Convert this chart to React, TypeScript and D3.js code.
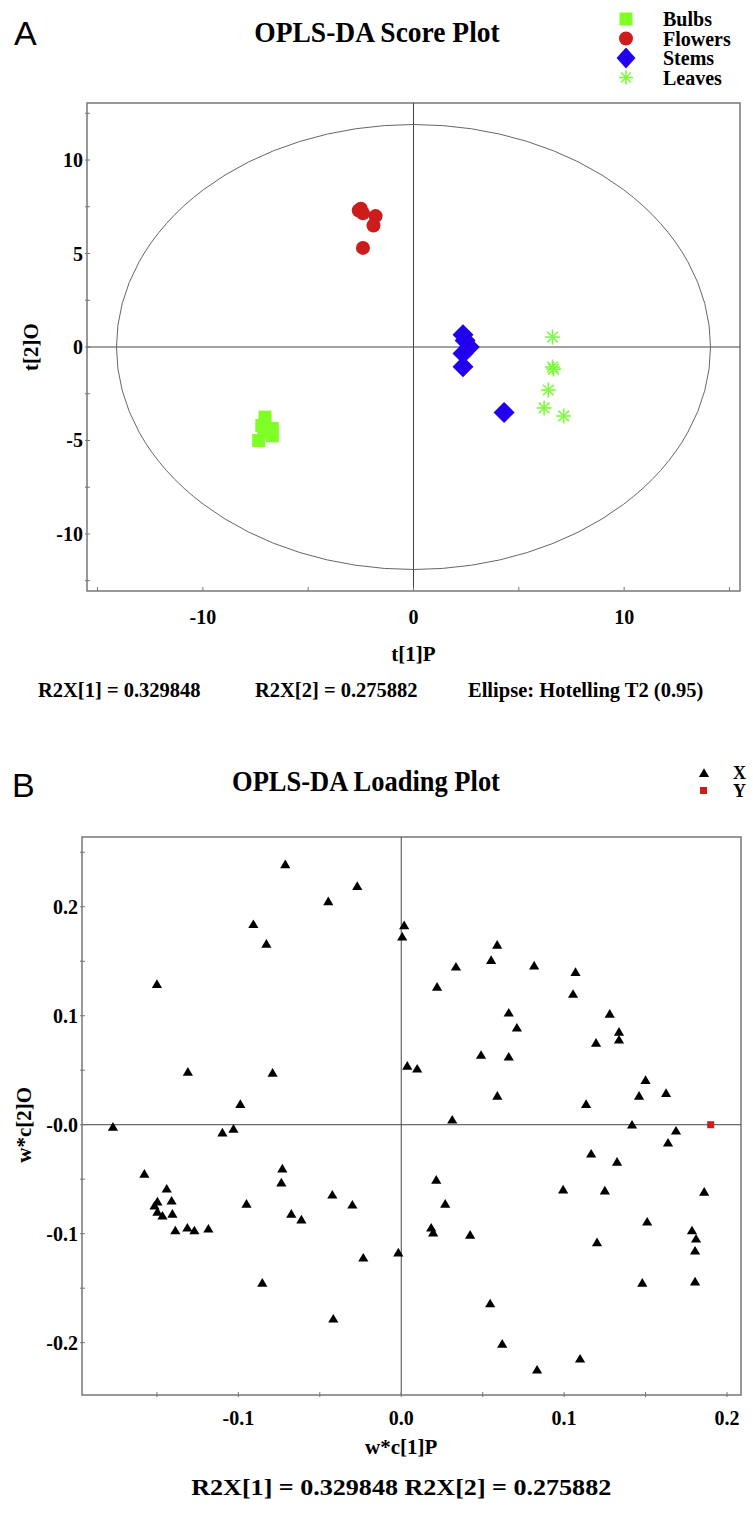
import React from 'react';
import * as d3 from 'd3';

// ---------- Panel A data (t[1]P, t[2]O) ----------
const bulbs: number[][] = [[-7.05, -3.75], [-7.2, -4.2], [-6.7, -4.35], [-6.7, -4.75], [-7.1, -4.6], [-7.35, -5.0]];
const flowers: number[][] = [[-2.5, 7.4], [-2.6, 7.3], [-2.4, 7.15], [-1.8, 7.0], [-1.9, 6.5], [-2.4, 5.3]];
const stems: number[][] = [[2.35, 0.65], [2.45, 0.35], [2.65, 0.0], [2.35, -0.35], [2.35, -1.05], [4.3, -3.5]];
const leaves: number[][] = [[6.6, 0.53], [6.6, -1.07], [6.65, -1.18], [6.4, -2.3], [6.2, -3.26], [7.13, -3.69]];
const groupNames = ['Bulbs', 'Flowers', 'Stems', 'Leaves'];
const aXTicks = [-15, -10, -5, 0, 5, 10, 15];
const aXLabels = [-10, 0, 10];
const aYTicks = [-12.5, -10, -7.5, -5, -2.5, 0, 2.5, 5, 7.5, 10, 12.5];
const aYLabels = [-10, -5, 0, 5, 10];
const ellipseRadii = [14.1, 11.9];

// ---------- Panel B data (w*c[1]P, w*c[2]O) ----------
const loadX: number[] = [
  -0.0712, -0.027, -0.0448, -0.0908, -0.0828, -0.150, 0.0018, 0.0006, -0.131, -0.079,
  0.0037, 0.0098, 0.0589, 0.0552, 0.0336, 0.0816, 0.107, 0.022, 0.1055, 0.066,
  0.071, 0.128, 0.1337, 0.1337, 0.1196, 0.049, 0.066, 0.150, 0.059, 0.146,
  0.1626, -0.0988, -0.177, -0.1098, -0.103, -0.1577, -0.144, -0.1497, -0.141, -0.1515,
  -0.1497, -0.1466, -0.1405, -0.1387, -0.1313, -0.127, -0.1184, -0.095, -0.073, -0.0736,
  -0.0675, -0.0613, -0.0423, -0.030, -0.0233, -0.0018, -0.0853, 0.1135, 0.0313, 0.1417,
  0.1687, 0.1638, 0.1166, 0.1325, 0.0215, 0.027, 0.0994, 0.125, 0.186, 0.0184,
  0.0196, 0.0423, 0.151, 0.1202, 0.1785, 0.181, 0.1804, 0.148, 0.1804, -0.0417,
  0.0546, 0.062, 0.0834, 0.1098,
];
const loadY: number[] = [
  0.239, 0.219, 0.205, 0.184, 0.166, 0.129, 0.183, 0.1725, 0.0486, 0.0477,
  0.054, 0.0514, 0.165, 0.151, 0.145, 0.146, 0.140, 0.1266, 0.120, 0.1028,
  0.089, 0.1018, 0.0853, 0.078, 0.0752, 0.064, 0.0624, 0.041, 0.0266, 0.0266,
  0.029, 0.019, -0.002, -0.0073, -0.0037, -0.045, -0.0587, -0.0706, -0.0697, -0.0743,
  -0.080, -0.0835, -0.0817, -0.097, -0.0945, -0.097, -0.0954, -0.0725, -0.0403, -0.053,
  -0.0817, -0.087, -0.0642, -0.0734, -0.122, -0.1174, -0.145, 0.019, 0.0046, 0.0,
  -0.0055, -0.0165, -0.0266, -0.034, -0.0505, -0.0725, -0.0596, -0.0605, -0.0615, -0.0945,
  -0.099, -0.101, -0.089, -0.108, -0.097, -0.1046, -0.1156, -0.145, -0.144, -0.178,
  -0.164, -0.201, -0.2248, -0.2147,
];
const yVar: number[] = [0.19, 0.0];
const bXTicks = [-0.15, -0.1, -0.05, 0, 0.05, 0.1, 0.15, 0.2];
const bXLabels = ['-0.1', '0.0', '0.1', '0.2'];
const bXLabelVals = [-0.1, 0, 0.1, 0.2];
const bYTicks = [-0.2, -0.15, -0.1, -0.05, 0, 0.05, 0.1, 0.15, 0.2, 0.25];
const bYLabelVals = [-0.2, -0.1, 0, 0.1, 0.2];
const bYLabels = ['-0.2', '-0.1', '-0.0', '0.1', '0.2'];

const SERIF = '"Liberation Serif", "Times New Roman", serif';
const SANS = '"Liberation Sans", Arial, sans-serif';
const C_BULB = '#80ff26';
const C_FLOWER = '#cc1c1c';
const C_STEM = '#2200ee';
const C_LEAF = '#7dfa3c';
const FRAME = '#777';
const AXIS = '#444';

const triPath = 'M0,-4.8L5.1,3.9L-5.1,3.9Z';
const squarePath = d3.symbol(d3.symbolSquare, 169)() as string;
const diamondPath = 'M0,-10.5L10.5,0L0,10.5L-10.5,0Z';

function Asterisk({ x, y, r = 7.5, color }: { x: number; y: number; r?: number; color: string }) {
  const angles = [0, 45, 90, 135];
  return (
    <g transform={`translate(${x},${y})`} stroke={color} strokeWidth={1.6}>
      {angles.map((a) => {
        const rad = (a * Math.PI) / 180;
        return <line key={a} x1={-r * Math.sin(rad)} y1={-r * Math.cos(rad)} x2={r * Math.sin(rad)} y2={r * Math.cos(rad)} />;
      })}
    </g>
  );
}

export default function App() {
  // Panel A scales
  const xA = d3.scaleLinear().domain([-15.5, 15.5]).range([87, 740]);
  const yA = d3.scaleLinear().domain([-13.05, 13.05]).range([591, 103]);
  const aL = 87, aR = 740, aT = 103, aB = 591;

  // Panel B scales
  const xB = d3.scaleLinear().domain([-0.196, 0.2086]).range([82, 741]);
  const yB = d3.scaleLinear().domain([-0.248, 0.264]).range([1395, 837]);
  const bL = 82, bR = 741, bT = 837, bB = 1395;

  const legendMarkers = [
    (x: number, y: number) => <path d={squarePath} transform={`translate(${x},${y})`} fill={C_BULB} />,
    (x: number, y: number) => <circle cx={x} cy={y} r={7} fill={C_FLOWER} />,
    (x: number, y: number) => <path d={diamondPath} transform={`translate(${x},${y}) scale(0.9,1)`} fill={C_STEM} />,
    (x: number, y: number) => <Asterisk x={x} y={y} r={7} color={C_LEAF} />,
  ];

  return (
    <svg width={753} height={1521} style={{ position: 'absolute', left: 0, top: 0, background: '#fff' }}>
      <rect x={0} y={0} width={753} height={1521} fill="#fff" />

      {/* ================= Panel A ================= */}
      <text x={14} y={45} fontFamily={SANS} fontSize={34} fill="#000">A</text>
      <text transform="translate(377,42) scale(1,1.1)" textAnchor="middle" fontFamily={SERIF} fontWeight="bold" fontSize={27.5}>OPLS-DA Score Plot</text>

      {groupNames.map((g, i) => (
        <g key={g}>
          {legendMarkers[i](626, 19 + i * 19.5)}
          <text x={663} y={26 + i * 19.5} fontFamily={SERIF} fontWeight="bold" fontSize={20}>{g}</text>
        </g>
      ))}

      {/* frame */}
      <rect x={aL} y={aT} width={aR - aL} height={aB - aT} fill="none" stroke={FRAME} strokeWidth={1.5} />
      {/* cross lines */}
      <line x1={xA(0)} x2={xA(0)} y1={aT} y2={aB} stroke={AXIS} strokeWidth={1} />
      <line x1={aL} x2={aR} y1={yA(0)} y2={yA(0)} stroke={AXIS} strokeWidth={1} />
      {/* ellipse */}
      <ellipse cx={xA(0)} cy={yA(0)} rx={xA(ellipseRadii[0]) - xA(0)} ry={yA(0) - yA(ellipseRadii[1])} fill="none" stroke="#666" strokeWidth={1} />

      {/* ticks */}
      {aXTicks.map((t) => (
        <line key={`ax${t}`} x1={xA(t)} x2={xA(t)} y1={aB - 4} y2={aB} stroke={FRAME} strokeWidth={1} />
      ))}
      {aYTicks.map((t) => (
        <line key={`ay${t}`} x1={aL - 2} x2={aL + 3} y1={yA(t)} y2={yA(t)} stroke={FRAME} strokeWidth={1} />
      ))}
      {aXLabels.map((t) => (
        <text key={`axl${t}`} x={xA(t)} y={624} textAnchor="middle" fontFamily={SERIF} fontWeight="bold" fontSize={20}>{t}</text>
      ))}
      {aYLabels.map((t) => (
        <text key={`ayl${t}`} x={83} y={yA(t) + 7} textAnchor="end" fontFamily={SERIF} fontWeight="bold" fontSize={20}>{t}</text>
      ))}
      <text x={xA(0)} y={661} textAnchor="middle" fontFamily={SERIF} fontWeight="bold" fontSize={21}>t[1]P</text>
      <text transform={`translate(38,${yA(0)}) rotate(-90)`} textAnchor="middle" fontFamily={SERIF} fontWeight="bold" fontSize={21}>t[2]O</text>

      {/* points */}
      {bulbs.map((p, i) => (
        <path key={`b${i}`} d={squarePath} transform={`translate(${xA(p[0])},${yA(p[1])})`} fill={C_BULB} />
      ))}
      {flowers.map((p, i) => (
        <circle key={`f${i}`} cx={xA(p[0])} cy={yA(p[1])} r={7} fill={C_FLOWER} />
      ))}
      {stems.map((p, i) => (
        <path key={`s${i}`} d={diamondPath} transform={`translate(${xA(p[0])},${yA(p[1])})`} fill={C_STEM} />
      ))}
      {leaves.map((p, i) => (
        <Asterisk key={`l${i}`} x={xA(p[0])} y={yA(p[1])} color={C_LEAF} />
      ))}

      <text x={38} y={697} fontFamily={SERIF} fontWeight="bold" fontSize={20.5}>R2X[1] = 0.329848</text>
      <text x={255} y={697} fontFamily={SERIF} fontWeight="bold" fontSize={20.5}>R2X[2] = 0.275882</text>
      <text x={468} y={697} fontFamily={SERIF} fontWeight="bold" fontSize={20.5}>Ellipse: Hotelling T2 (0.95)</text>

      {/* ================= Panel B ================= */}
      <text x={12} y={797} fontFamily={SANS} fontSize={34} fill="#000">B</text>
      <text transform="translate(366,791) scale(1,1.1)" textAnchor="middle" fontFamily={SERIF} fontWeight="bold" fontSize={26.5}>OPLS-DA Loading Plot</text>

      <path d={triPath} transform="translate(704,773)" fill="#000" />
      <text x={733} y={779} fontFamily={SERIF} fontWeight="bold" fontSize={18}>X</text>
      <rect x={700} y={787} width={7} height={7} fill={C_FLOWER} />
      <text x={733} y={797} fontFamily={SERIF} fontWeight="bold" fontSize={18}>Y</text>

      <rect x={bL} y={bT} width={bR - bL} height={bB - bT} fill="none" stroke={FRAME} strokeWidth={1.5} />
      <line x1={xB(0)} x2={xB(0)} y1={bT} y2={bB} stroke={AXIS} strokeWidth={1} />
      <line x1={bL} x2={bR} y1={yB(0)} y2={yB(0)} stroke={AXIS} strokeWidth={1} />

      {bXTicks.map((t) => (
        <line key={`bx${t}`} x1={xB(t)} x2={xB(t)} y1={bB - 3} y2={bB + 2} stroke={FRAME} strokeWidth={1} />
      ))}
      {bYTicks.map((t) => (
        <line key={`by${t}`} x1={bL - 2} x2={bL + 3} y1={yB(t)} y2={yB(t)} stroke={FRAME} strokeWidth={1} />
      ))}
      {bXLabelVals.map((t, i) => (
        <text key={`bxl${t}`} x={xB(t)} y={1425} textAnchor="middle" fontFamily={SERIF} fontWeight="bold" fontSize={20}>{bXLabels[i]}</text>
      ))}
      {bYLabelVals.map((t, i) => (
        <text key={`byl${t}`} x={78} y={yB(t) + 7} textAnchor="end" fontFamily={SERIF} fontWeight="bold" fontSize={20}>{bYLabels[i]}</text>
      ))}
      <text x={xB(0)} y={1454} textAnchor="middle" fontFamily={SERIF} fontWeight="bold" fontSize={21}>w*c[1]P</text>
      <text transform={`translate(31,${yB(0)}) rotate(-90)`} textAnchor="middle" fontFamily={SERIF} fontWeight="bold" fontSize={21}>w*c[2]O</text>

      {loadX.map((v, i) => (
        <path key={`t${i}`} d={triPath} transform={`translate(${xB(v)},${yB(loadY[i])})`} fill="#000" />
      ))}
      <rect x={xB(yVar[0]) - 3.5} y={yB(yVar[1]) - 3.5} width={7} height={7} fill={C_FLOWER} />

      <text x={xB(0)} y={1495} textAnchor="middle" fontFamily={SERIF} fontWeight="bold" fontSize={23} textLength={420} lengthAdjust="spacingAndGlyphs">R2X[1] = 0.329848 R2X[2] = 0.275882</text>
    </svg>
  );
}
